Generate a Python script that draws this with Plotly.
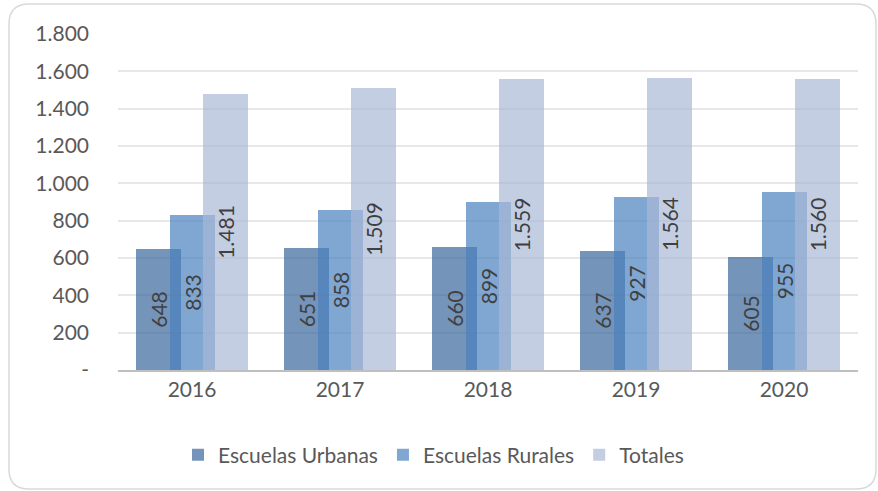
import plotly.graph_objects as go

years = ["2016", "2017", "2018", "2019", "2020"]
urbanas = [648, 651, 660, 637, 605]
rurales = [833, 858, 899, 927, 955]
totales = [1481, 1509, 1559, 1564, 1560]
series_names = ["Escuelas Urbanas", "Escuelas Rurales", "Totales"]
y_tickvals = [0, 200, 400, 600, 800, 1000, 1200, 1400, 1600, 1800]
y_ticktext = ["-", "200", "400", "600", "800", "1.000", "1.200", "1.400", "1.600", "1.800"]

def fmt(v):
    return f"{v:,}".replace(",", ".")

FONT = "Lato"
colors = ["rgba(59,102,155,0.7)", "rgba(74,128,191,0.7)", "rgba(169,185,215,0.7)"]
offsets = [-0.378, -0.149, 0.074]
W = 0.304

fig = go.Figure()
for name, vals, c, off in zip(series_names, [urbanas, rurales, totales], colors, offsets):
    fig.add_trace(go.Bar(
        x=years, y=vals, name=name, marker=dict(color=c, line=dict(width=0)),
        offset=off, width=W,
        text=[fmt(v) for v in vals], textposition="inside", insidetextanchor="middle",
        textangle=-90, textfont=dict(family=FONT, size=21, color="#404040"),
        cliponaxis=False,
    ))

L, R, T, B = 118, 20, 34, 121
pw, ph = 878 - L - R, 491 - T - B

def px(x):
    return (x - L) / pw

def py(y):
    return (491 - B - y) / ph

x0, x1, y0, y1, r = 9, 876, 4, 489, 20
path = (f"M {px(x0)},{py(y0 + r)} Q {px(x0)},{py(y0)} {px(x0 + r)},{py(y0)} "
        f"L {px(x1 - r)},{py(y0)} Q {px(x1)},{py(y0)} {px(x1)},{py(y0 + r)} "
        f"L {px(x1)},{py(y1 - r)} Q {px(x1)},{py(y1)} {px(x1 - r)},{py(y1)} "
        f"L {px(x0 + r)},{py(y1)} Q {px(x0)},{py(y1)} {px(x0)},{py(y1 - r)} Z")

fig.update_layout(
    width=878, height=491,
    margin=dict(l=L, r=R, t=T, b=B),
    paper_bgcolor="white", plot_bgcolor="white",
    barmode="overlay", bargap=0,
    font=dict(family=FONT, size=21, color="#595959"),
    showlegend=True,
    legend=dict(orientation="h", x=px(178), xanchor="left", y=py(455), yanchor="middle",
                font=dict(family=FONT, size=21, color="#595959"),
                itemwidth=30, tracegroupgap=0),
    xaxis=dict(showgrid=False, showline=True, linecolor="#bfbfbf", linewidth=2,
               ticks="", tickfont=dict(size=21, color="#595959"), fixedrange=True),
    yaxis=dict(range=[0, 1800], tickvals=y_tickvals, ticktext=y_ticktext,
               showgrid=True, gridcolor="#e8e8e8", gridwidth=2, zeroline=False,
               showline=False, ticks="", ticklabelstandoff=28,
               tickfont=dict(size=21, color="#595959")),
    shapes=[dict(type="path", xref="paper", yref="paper", path=path,
                 line=dict(color="#d9d9d9", width=1.5), layer="below")],
)

fig.write_html("out.html", config={"displayModeBar": False},
               post_script="document.body.style.margin='0px';")
